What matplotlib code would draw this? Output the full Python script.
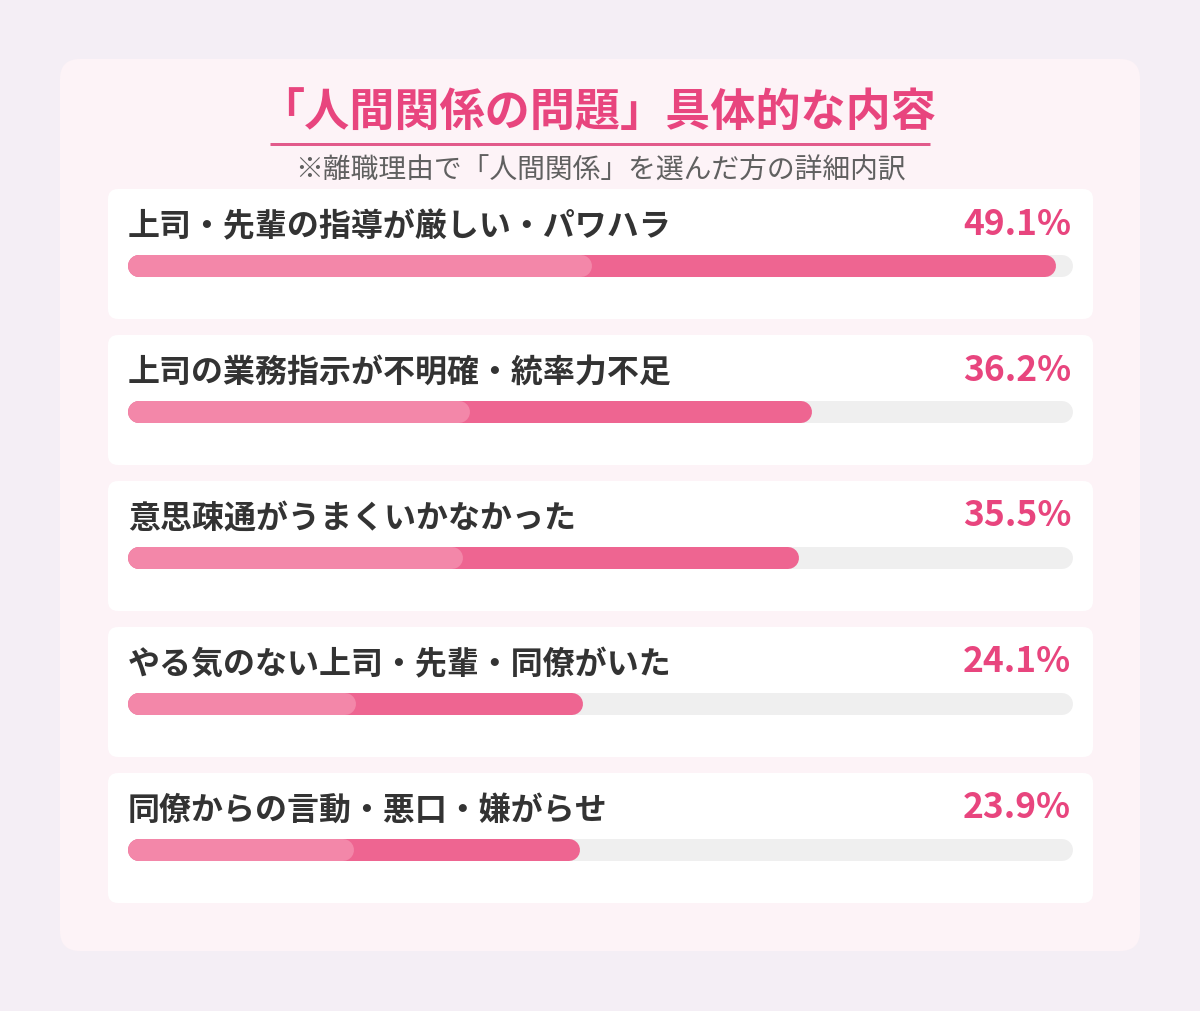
import matplotlib.pyplot as plt
from matplotlib.patches import FancyBboxPatch

plt.rcParams['font.family'] = ['Noto Sans CJK JP', 'DejaVu Sans']

# data
labels = ["上司・先輩の指導が厳しい・パワハラ",
          "上司の業務指示が不明確・統率力不足",
          "意思疎通がうまくいかなかった",
          "やる気のない上司・先輩・同僚がいた",
          "同僚からの言動・悪口・嫌がらせ"]
values = [49.1, 36.2, 35.5, 24.1, 23.9]
scale_max = 50
title = "「人間関係の問題」具体的な内容"
subtitle = "※離職理由で「人間関係」を選んだ方の詳細内訳"

pink = '#e8457e'
dark_fill = '#ee6591'
light_fill = '#f387a9'
track = '#efefef'

W, H = 1200, 1012
fig = plt.figure(figsize=(W / 100, H / 100), dpi=100, facecolor='#f4eef5')
ax = fig.add_axes([0, 0, 1, 1])
ax.set_xlim(0, W)
ax.set_ylim(H, 0)
ax.axis('off')

px = 72 / 100  # one pixel in points

# outer panel
ax.add_patch(FancyBboxPatch((60 + 20, 60 + 20), 1080 - 40, 892 - 40,
                            boxstyle="round,pad=20", fc='#fdf3f7', ec='none'))

ax.text(598, 114, title, ha='center', va='center', fontsize=32.5,
        fontweight='bold', color=pink)
ax.plot([270, 930], [145, 145], color='#e25a8b', lw=3 * px, solid_capstyle='butt')
ax.text(600, 171, subtitle, ha='center', va='center', fontsize=20, color='#606060')

x0, x1 = 128, 1073
bar_h = 22
for i, (lab, v) in enumerate(zip(labels, values)):
    top = 190 + i * 146
    ax.add_patch(FancyBboxPatch((108 + 10, top + 10), 985 - 20, 130 - 20,
                                boxstyle="round,pad=10", fc='white', ec='none'))
    ax.text(x0, top + 37, lab, ha='left', va='center', fontsize=23,
            fontweight='bold', color='#333333')
    ax.text(x1 - 2, top + 34, f"{v}%", ha='right', va='center', fontsize=25.5,
            fontweight='bold', color=pink)
    yb = top + 77
    r = bar_h / 2
    end = x0 + (x1 - x0) * v / scale_max
    mid = x0 + (end - x0) / 2
    ax.plot([x0 + r, x1 - r], [yb, yb], color=track, lw=bar_h * px, solid_capstyle='round')
    ax.plot([x0 + r, end - r], [yb, yb], color=dark_fill, lw=bar_h * px, solid_capstyle='round')
    ax.plot([x0 + r, mid - r], [yb, yb], color=light_fill, lw=bar_h * px, solid_capstyle='round')

fig.savefig('out.png', dpi=100, facecolor=fig.get_facecolor())
